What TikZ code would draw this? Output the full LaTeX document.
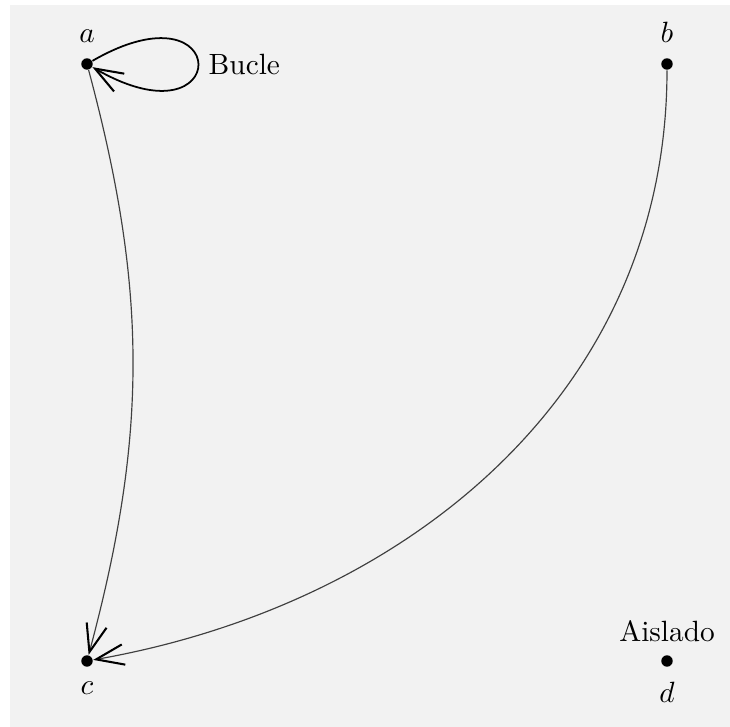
\documentclass[tikz,border=0pt]{standalone}
\usepackage{amsmath,amssymb}
\usepackage{tikz}
\usetikzlibrary{arrows.meta,positioning,calc}

\begin{document}
\begin{tikzpicture}[
    x=0.012cm, y=0.012cm,
    vertex/.style={circle, fill=black, inner sep=0pt, minimum size=3.9pt},
    arr/.style={-{Straight Barb[length=9.5pt, width=7pt, line width=0.7pt, black]}, black!75, line width=0.4pt},
    looparr/.style={-{Straight Barb[length=9.5pt, width=7pt, line width=0.7pt, black]}, black, line width=0.6pt}
]
\useasboundingbox (0,0) rectangle (730,727);
\fill[black!5] (10,0) rectangle (730,722);

\node[vertex, label={[label distance=1.5pt]above:$a$}] (a) at (87,663) {};
\node[vertex, label={[label distance=1.5pt]above:$b$}] (b) at (667,663) {};
\node[vertex, label={[label distance=1.5pt]below:$c$}] (c) at (87,66) {};
\node[vertex, label={[label distance=1.5pt]below:$d$}, label={[label distance=1pt]above:Aislado}] (d) at (667,66) {};

\draw[looparr] (a) to[out=30, in=-30, min distance=1.95cm] node[right] {Bucle} (a);
\draw[arr] (a) to[bend left=15] (c);
\draw[arr] (b) to[out=-90, in=10] (c);
\end{tikzpicture}
\end{document}
